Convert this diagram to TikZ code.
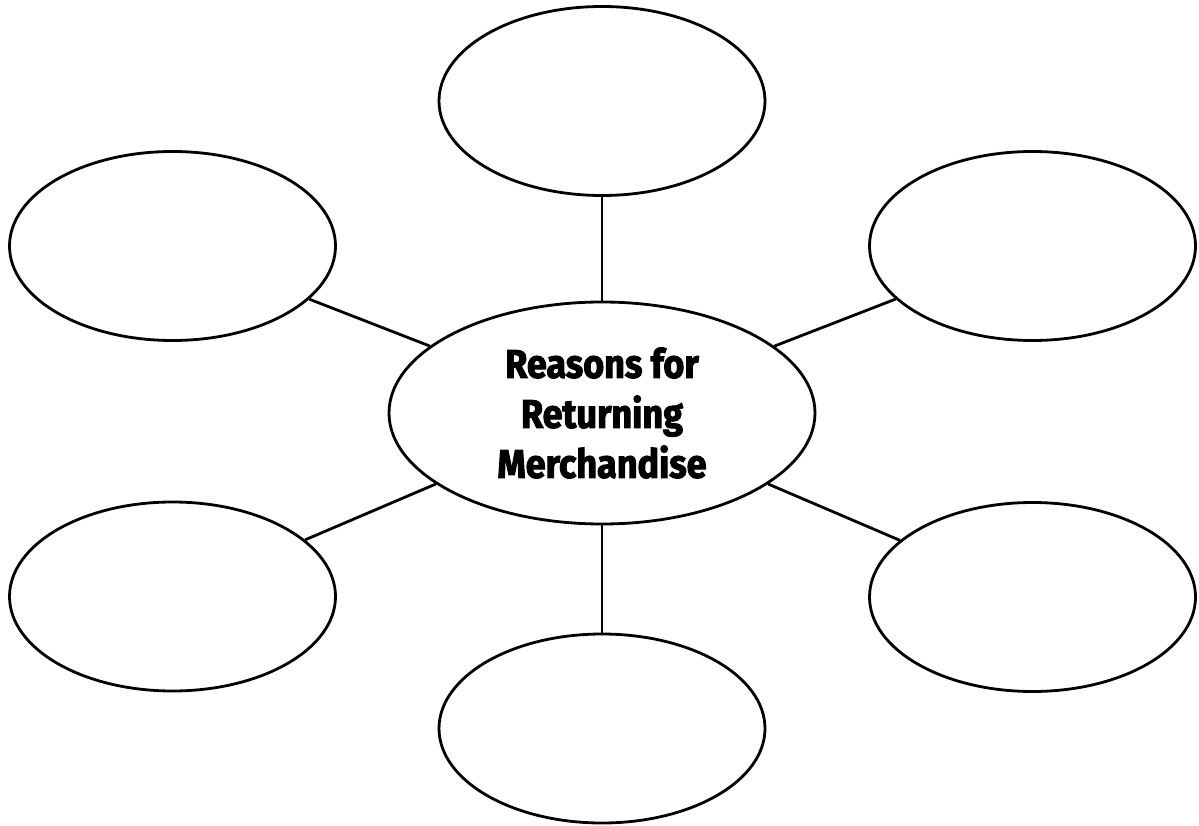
\documentclass[tikz,border=0pt]{standalone}
\usepackage{fontspec}
\newfontfamily\titlefont{Fira Sans}[FakeStretch=0.9,FakeBold=2.5]
\usetikzlibrary{shapes.geometric}
\begin{document}
\begin{tikzpicture}[x=1pt,y=-1pt,
  bubble/.style={draw=black,line width=2.8pt,ellipse,inner sep=0pt,minimum width=326pt,minimum height=189pt},
  hub/.style={draw=black,line width=2.8pt,ellipse,inner sep=0pt,minimum width=426pt,minimum height=222pt,
    align=center,font=\titlefont\bfseries\fontsize{40pt}{50pt}\selectfont},
  spoke/.style={line width=2.8pt}]
\useasboundingbox (0,0) rectangle (1199,826);
\node[hub] (c) at (602,413) {Reasons for\\Returning\\Merchandise};
\node[bubble] (t) at (602,101) {};
\node[bubble] (tl) at (172.5,246) {};
\node[bubble] (tr) at (1032.5,246) {};
\node[bubble] (bl) at (172.5,596.5) {};
\node[bubble] (br) at (1032.5,597) {};
\node[bubble] (b) at (602,728.5) {};
\foreach \n in {t,tl,tr,bl,br,b} \draw[spoke] (c) -- (\n);
\end{tikzpicture}
\end{document}
